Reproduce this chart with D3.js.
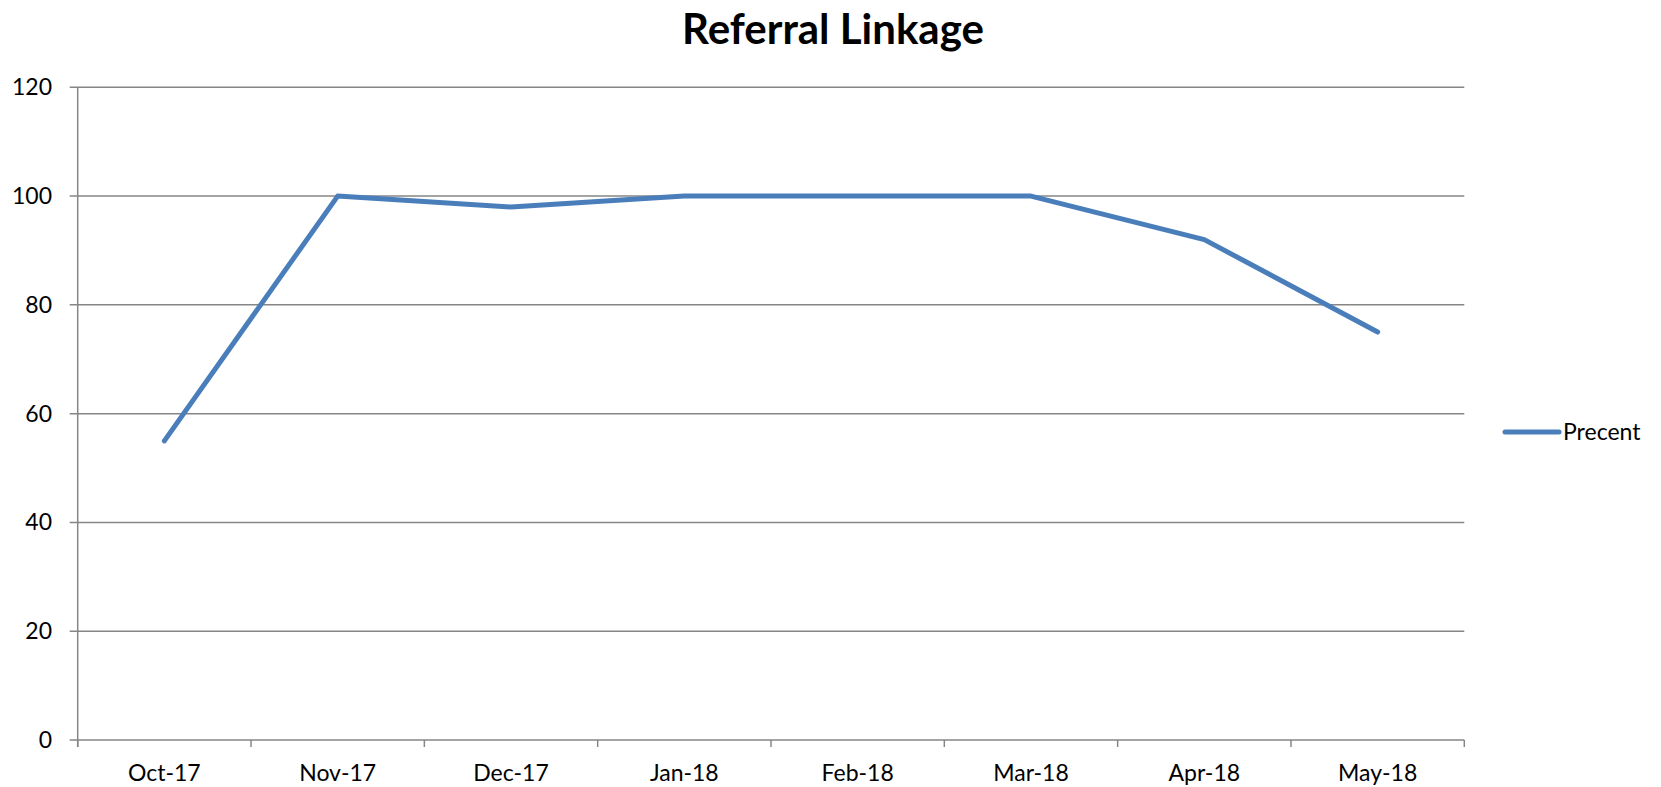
<!DOCTYPE html>
<html>
<head>
<meta charset="utf-8">
<script src="https://cdn.jsdelivr.net/npm/d3@7"></script>
<style>
  body { margin: 0; background: #fff; }
  svg text { font-family: Lato, "Open Sans", sans-serif; fill: #000; }
</style>
</head>
<body>
<svg id="chart" width="1661" height="787"></svg>
<script>
var months = ["Oct-17", "Nov-17", "Dec-17", "Jan-18", "Feb-18", "Mar-18", "Apr-18", "May-18"];
var precent = [55, 100, 98, 100, 100, 100, 92, 75];
var yTicks = [0, 20, 40, 60, 80, 100, 120];
var seriesName = "Precent";

var svg = d3.select("#chart");
var plotLeft = 77.7, plotRight = 1464.3, plotTop = 87.3, plotBottom = 740;
var gridColor = "#868686", lineColor = "#4a7ebb";

var x = d3.scaleBand().domain(months).range([plotLeft, plotRight]).padding(0);
var y = d3.scaleLinear().domain([0, 120]).range([plotBottom, plotTop]);

// gridlines (with the little outward ticks)
svg.append("g")
  .selectAll("line")
  .data(yTicks)
  .enter().append("line")
  .attr("x1", plotLeft - 8)
  .attr("x2", plotRight)
  .attr("y1", function(d){ return y(d); })
  .attr("y2", function(d){ return y(d); })
  .attr("stroke", gridColor)
  .attr("stroke-width", 1.5);

svg.append("g")
  .selectAll("text")
  .data(yTicks)
  .enter().append("text")
  .attr("x", 52)
  .attr("y", function(d){ return y(d) + 8; })
  .attr("text-anchor", "end")
  .style("font-size", "23px")
  .text(function(d){ return d; });

// y axis line
svg.append("line")
  .attr("x1", plotLeft).attr("x2", plotLeft)
  .attr("y1", plotTop).attr("y2", plotBottom + 7)
  .attr("stroke", gridColor).attr("stroke-width", 1.5);

// x axis tick marks at band boundaries
var bounds = months.map(function(m){ return x(m); }).concat([plotRight]);
svg.append("g")
  .selectAll("line")
  .data(bounds)
  .enter().append("line")
  .attr("x1", function(d){ return d; })
  .attr("x2", function(d){ return d; })
  .attr("y1", plotBottom)
  .attr("y2", plotBottom + 7)
  .attr("stroke", gridColor)
  .attr("stroke-width", 1.5);

svg.append("g")
  .selectAll("text")
  .data(months)
  .enter().append("text")
  .attr("x", function(d){ return x(d) + x.bandwidth() / 2; })
  .attr("y", 781)
  .attr("text-anchor", "middle")
  .style("font-size", "23px")
  .text(function(d){ return d; });

// the series
var line = d3.line()
  .x(function(d, i){ return x(months[i]) + x.bandwidth() / 2; })
  .y(function(d){ return y(d); });

svg.append("path")
  .datum(precent)
  .attr("d", line)
  .attr("fill", "none")
  .attr("stroke", lineColor)
  .attr("stroke-width", 5)
  .attr("stroke-linejoin", "round")
  .attr("stroke-linecap", "round");

// title
svg.append("text")
  .attr("x", 833)
  .attr("y", 44)
  .attr("text-anchor", "middle")
  .style("font-size", "42px")
  .style("font-weight", "bold")
  .text("Referral Linkage");

// legend
svg.append("line")
  .attr("x1", 1505).attr("x2", 1559)
  .attr("y1", 432).attr("y2", 432)
  .attr("stroke", lineColor)
  .attr("stroke-width", 5)
  .attr("stroke-linecap", "round");

svg.append("text")
  .attr("x", 1563)
  .attr("y", 440)
  .style("font-size", "23px")
  .text(seriesName);
</script>
</body>
</html>
